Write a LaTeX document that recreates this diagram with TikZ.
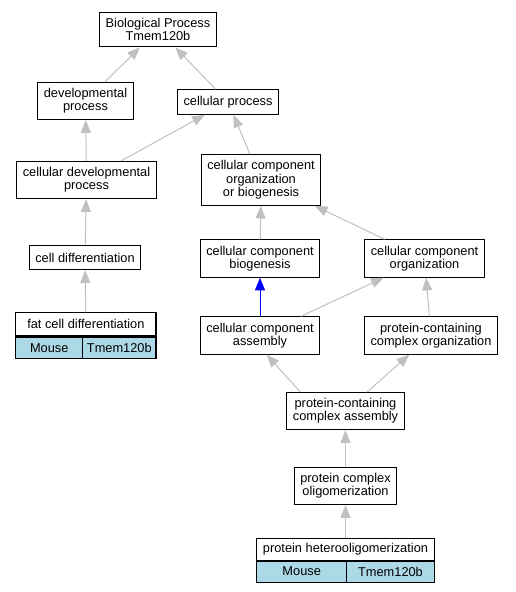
\documentclass[tikz,border=0pt]{standalone}
\usepackage{fontspec}
\setmainfont{Liberation Sans}
\usetikzlibrary{arrows.meta,positioning}

\begin{document}
\begin{tikzpicture}[x=0.75pt,y=-0.75pt]
            \tikzset{
                term/.style={rectangle,draw,line width=0.8pt,align=center,
                    font=\fontsize{9.6}{10}\selectfont,inner xsep=4.6pt,inner ysep=4.5pt,
                    minimum height=18.4pt},
                title/.style={term,inner sep=0pt},
                cell/.style={rectangle,draw,line width=0.8pt,fill=lightblue,
                    font=\fontsize{9.6}{10}\selectfont,inner sep=0pt},
                edge/.style={-{Triangle[length=9.5pt,width=7.5pt]},draw=edgegray,line width=0.75pt},
                isa/.style={edge,draw=blue}
            }
            \definecolor{lightblue}{HTML}{ADD8E6}
            \definecolor{edgegray}{HTML}{C0C0C0}
            \useasboundingbox (0,0) rectangle (515,592);
            % vertices
            \node[term] (bp) at (158,29.5) {Biological Process\\Tmem120b};
            \node[term] (dev) at (85.5,101) {developmental\\process};
            \node[term] (cp) at (228,102) {cellular process};
            \node[term] (cdp) at (86.5,180) {cellular developmental\\process};
            \node[term] (ccob) at (261,180) {cellular component\\organization\\or biogenesis};
            \node[term] (cdiff) at (85,257.5) {cell differentiation};
            \node[term] (ccb) at (260,258.5) {cellular component\\biogenesis};
            \node[term] (cco) at (424.5,258.5) {cellular component\\organization};
            \node[term] (cca) at (260,335.5) {cellular component\\assembly};
            \node[term] (pcco) at (431,335.5) {protein-containing\\complex organization};
            \node[term] (pcca) at (345.5,411) {protein-containing\\complex assembly};
            \node[term] (pco) at (345.5,486) {protein complex\\oligomerization};

            % annotated terms
            \node[title,minimum width=105.2pt,minimum height=17.5pt] (fcd) at (85.85,324.3) {fat cell differentiation};
            \node[cell,minimum width=50.25pt,minimum height=16pt,below right=0pt and 0pt of fcd.south west] (fcdm) {Mouse};
            \node[cell,minimum width=54.95pt,minimum height=16pt,below left=0pt and 0pt of fcd.south east] (fcdg) {Tmem120b};
            \node[title,minimum width=133.2pt,minimum height=16.3pt] (phet) at (345.5,549.2) {protein heterooligomerization};
            \node[cell,minimum width=67.5pt,minimum height=15.75pt,below right=0pt and 0pt of phet.south west] (phetm) {Mouse};
            \node[cell,minimum width=65.7pt,minimum height=15.75pt,below left=0pt and 0pt of phet.south east] (phetg) {Tmem120b};

            %edges
            \draw[edge] (dev) -- (bp);
            \draw[edge] (cp) -- (bp);
            \draw[edge] (cdp) -- (dev);
            \draw[edge] (cdp) -- (cp);
            \draw[edge] (ccob) -- (cp);
            \draw[edge] (cdiff) -- (cdp);
            \draw[edge] (fcd) -- (cdiff);
            \draw[edge] (ccb) -- (ccob);
            \draw[edge] (cco) -- (ccob);
            \draw[isa] (cca) -- (ccb);
            \draw[edge] (cca) -- (cco);
            \draw[edge] (pcco) -- (cco);
            \draw[edge] ([xshift=-34pt]pcca.north) -- ([xshift=5pt]cca.south);
            \draw[edge] (pcca) -- (pcco);
            \draw[edge] (pco) -- (pcca);
            \draw[edge] (phet) -- (pco);
\end{tikzpicture}
\end{document}
